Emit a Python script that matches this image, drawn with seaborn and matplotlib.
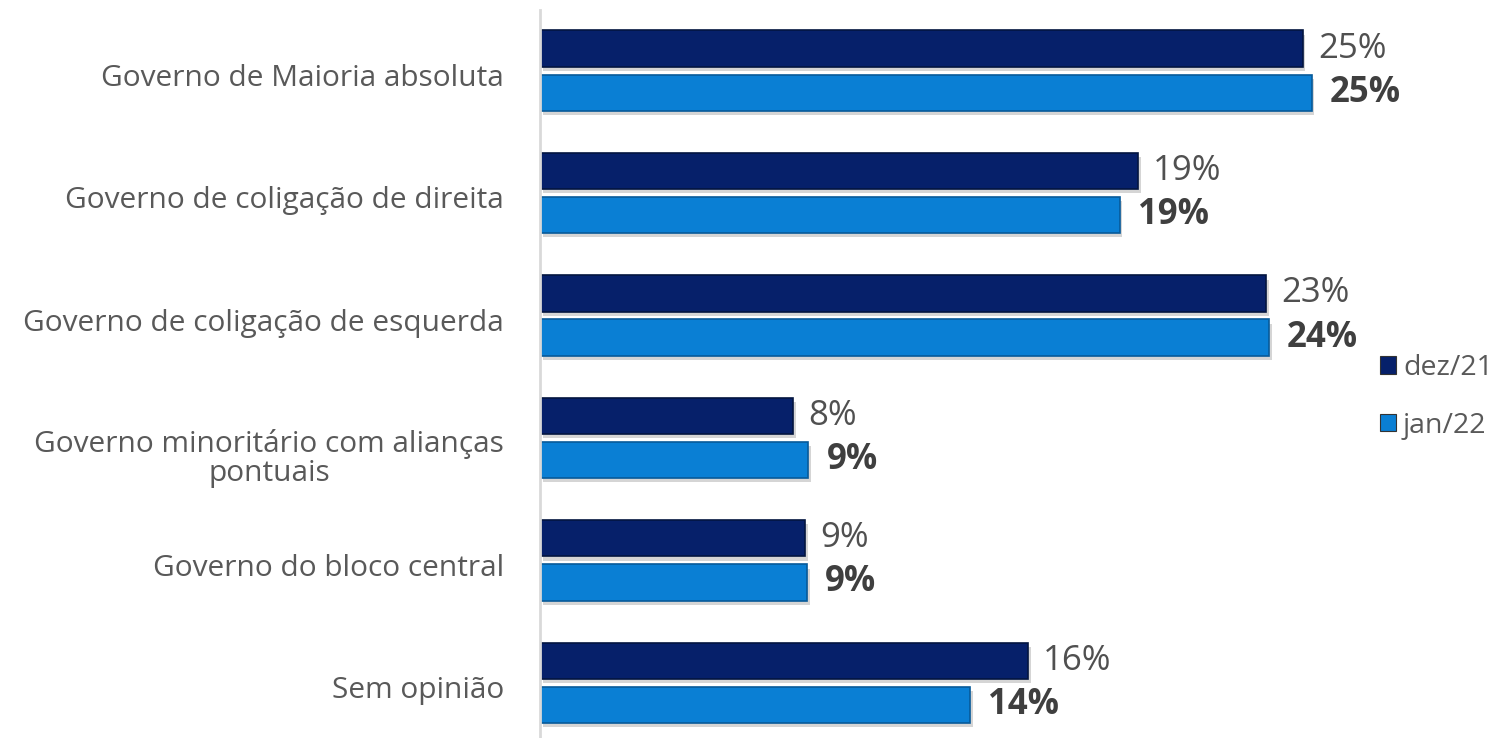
import matplotlib
matplotlib.use("Agg")
import matplotlib.pyplot as plt
import matplotlib.patheffects as pe
import matplotlib.transforms as mtransforms
import seaborn as sns
import pandas as pd

categories = [
    "Governo de Maioria absoluta",
    "Governo de coligação de direita",
    "Governo de coligação de esquerda",
    "Governo minoritário com alianças\npontuais",
    "Governo do bloco central",
    "Sem opinião",
]
periods = ["dez/21", "jan/22"]
dez21 = [25.0, 19.6, 23.8, 8.3, 8.7, 16.0]
jan22 = [25.3, 19.0, 23.9, 8.8, 8.75, 14.1]
dez21_labels = ["25%", "19%", "23%", "8%", "9%", "16%"]
jan22_labels = ["25%", "19%", "24%", "9%", "9%", "14%"]
colors = ["#06206a", "#0a7fd4"]

df = pd.DataFrame({
    "categoria": categories * 2,
    "periodo": [periods[0]] * len(categories) + [periods[1]] * len(categories),
    "valor": dez21 + jan22,
})

sns.set_style("white")
plt.rcParams["font.family"] = ["Open Sans", "DejaVu Sans"]

fig = plt.figure(figsize=(15.05, 7.38), dpi=100)
ax = fig.add_axes([540 / 1505, 0, 965 / 1505, 728 / 738])

sns.barplot(data=df, y="categoria", x="valor", hue="periodo", order=categories,
            hue_order=periods, palette=colors, saturation=1, orient="h",
            width=0.72, gap=0.18, ax=ax, legend=False)

shadow = [pe.withSimplePatchShadow(offset=(2, -3), shadow_rgbFace="#888888", alpha=0.35)]
for cont, edge in zip(ax.containers, ["#031540", "#075a9a"]):
    for bar in cont:
        bar.set_edgecolor(edge)
        bar.set_linewidth(1.2)
        bar.set_path_effects(shadow)

ax.bar_label(ax.containers[0], labels=dez21_labels, padding=11, fontsize=25,
             color="#505050")
ax.bar_label(ax.containers[1], labels=jan22_labels, padding=13, fontsize=25,
             color="#3f3f3f", fontweight="bold")

ax.set_xlim(0, 965 / 30.5)
ax.set_ylim(5.45, -0.495)
ax.set_xlabel("")
ax.set_ylabel("")
ax.set_xticks([])
for s in ["top", "right", "bottom"]:
    ax.spines[s].set_visible(False)
ax.spines["left"].set_color("#d9d9d9")
ax.spines["left"].set_linewidth(2)
ax.tick_params(axis="y", length=0, pad=26, labelsize=21.5, labelcolor="#595959")
for lab in ax.get_yticklabels():
    shift = -3 / 72
    if "\n" in lab.get_text():
        lab.set_multialignment("center")
        lab.set_linespacing(1.0)
        shift = -12 / 72
    lab.set_transform(lab.get_transform() +
                      mtransforms.ScaledTranslation(0, shift, fig.dpi_scale_trans))

handles = [plt.Rectangle((0, 0), 1, 1, facecolor=c, edgecolor="#333333", linewidth=0.8)
           for c in colors]
fig.legend(handles, periods, loc="center left", bbox_to_anchor=(1366 / 1505, 0.462),
           frameon=False, fontsize=20.5, labelcolor="#595959", handlelength=0.55,
           handleheight=0.55, handletextpad=0.25, labelspacing=1.05, borderpad=0)

fig.savefig("out.png", dpi=100, facecolor="white")
